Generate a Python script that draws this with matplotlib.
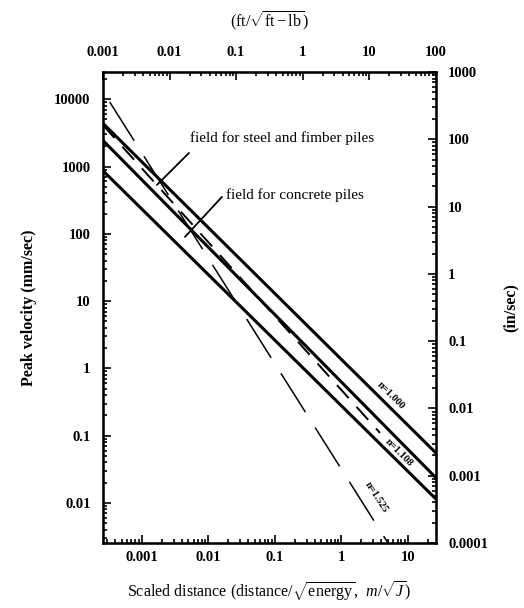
import matplotlib
matplotlib.use("Agg")
import matplotlib.pyplot as plt

# scaled distance (m/sqrt(J)) and peak velocity (mm/s) end points
x_n1000 = [0.00026, 26.0]
v_n1000 = [4400, 0.056]
x_n1108_mid = [0.00026, 26.0]
v_n1108_mid = [2450, 0.024]
x_low = [0.00026, 26.0]
v_low = [870, 0.0116]
x_dash = [0.00026, 3.8]
v_dash = [4140, 0.11]
x_n1525 = [0.00033, 5.0]
v_n1525 = [9100, 0.00255]

bottom_ticks = [0.001, 0.01, 0.1, 1, 10]
bottom_labels = ["0.001", "0.01", "0.1", "1", "10"]
top_ticks = [0.001, 0.01, 0.1, 1, 10, 100]
top_labels = ["0.001", "0.01", "0.1", "1", "10", "100"]
left_ticks = [10000, 1000, 100, 10, 1, 0.1, 0.01]
left_labels = ["10000", "1000", "100", "10", "1", "0.1", "0.01"]
right_ticks = [1000, 100, 10, 1, 0.1, 0.01, 0.001, 0.0001]
right_labels = ["1000", "100", "10", "1", "0.1", "0.01", "0.001", "0.0001"]

M_TO_FT = 3.82   # m/sqrt(J) -> ft/sqrt(ft-lb)
MM_TO_IN = 25.4

plt.rcParams['font.family'] = ['Liberation Serif', 'DejaVu Serif']
plt.rcParams['mathtext.fontset'] = 'custom'
plt.rcParams['mathtext.rm'] = 'Liberation Serif'
plt.rcParams['mathtext.it'] = 'Liberation Serif:italic'

fig = plt.figure(figsize=(5.24, 6.08), dpi=100)
ax = fig.add_axes([0.1966, 0.1069, 0.635, 0.7747])

xlim = (0.001 / M_TO_FT, 100 / M_TO_FT)
ylim = (0.0001 * MM_TO_IN, 1000 * MM_TO_IN)

ax.plot(x_n1000, v_n1000, color='black', lw=2.2)
ax.plot(x_n1108_mid, v_n1108_mid, color='black', lw=2.2)
ax.plot(x_low, v_low, color='black', lw=2.2)
ax.plot(x_dash, v_dash, color='black', lw=1.4, linestyle=(0, (9, 6)))
ax.plot(x_n1525, v_n1525, color='black', lw=1.1, linestyle=(0, (30, 12)))

ax.set_xscale('log')
ax.set_yscale('log')
ax.set_xlim(xlim)
ax.set_ylim(ylim)
ax.set_xticks(bottom_ticks)
ax.set_xticklabels(bottom_labels, fontweight='bold', fontsize=10.5)
ax.set_yticks(left_ticks)
ax.set_yticklabels(left_labels, fontweight='bold', fontsize=10.5)
ax.tick_params(which='both', direction='in', width=1.2)
ax.tick_params(which='major', length=6)
ax.tick_params(which='minor', length=3)
ax.tick_params(axis='x', pad=6)
ax.tick_params(axis='y', pad=9)
for s in ax.spines.values():
    s.set_linewidth(1.8)

ax.set_ylabel("Peak velocity (mm/sec)", fontweight='bold', fontsize=11.5, labelpad=12)
ax.set_xlabel(r"Scaled distance (distance/$\sqrt{\mathrm{energy}}$,  $m/\sqrt{J}$)",
              fontsize=11.5, labelpad=11)

# right axis in in/sec
axr = ax.twinx()
axr.set_yscale('log')
axr.set_ylim(ylim[0] / MM_TO_IN, ylim[1] / MM_TO_IN)
axr.set_yticks(right_ticks)
axr.set_yticklabels(right_labels, fontweight='bold', fontsize=10.5)
axr.tick_params(which='both', direction='in', width=1.2)
axr.tick_params(which='major', length=6, pad=9)
axr.tick_params(which='minor', length=3)
axr.set_ylabel("(in/sec)", fontweight='bold', fontsize=11.5, labelpad=10)

# top axis in ft/sqrt(ft-lb)
axt = ax.twiny()
axt.set_xscale('log')
axt.set_xlim(xlim[0] * M_TO_FT, xlim[1] * M_TO_FT)
axt.set_xticks(top_ticks)
axt.set_xticklabels(top_labels, fontweight='bold', fontsize=10.5)
axt.tick_params(which='both', direction='in', width=1.2)
axt.tick_params(which='major', length=6, pad=9)
axt.tick_params(which='minor', length=3)
axt.set_xlabel(r"(ft/$\sqrt{\mathrm{ft-lb}}$)", fontsize=11.5, labelpad=14)

# annotations with leader lines
ax.text(0.0053, 2650, "field for steel and fimber piles", fontsize=11, va='center')
ax.annotate("", xy=(0.00169, 532), xytext=(0.00512, 1590),
            arrowprops=dict(arrowstyle='-', color='black', lw=1.3, shrinkA=0, shrinkB=0))
ax.text(0.0184, 378, "field for concrete piles", fontsize=11, va='center')
ax.annotate("", xy=(0.00446, 90), xytext=(0.016, 353),
            arrowprops=dict(arrowstyle='-', color='black', lw=1.3, shrinkA=0, shrinkB=0))

ax.text(5.5, 0.39, "n=1.000", fontsize=7.5, fontweight='bold', rotation=-45,
        ha='center', va='center')
ax.text(7.3, 0.056, "n=1.108", fontsize=7.5, fontweight='bold', rotation=-45,
        ha='center', va='center')
ax.text(3.3, 0.0123, "n=1.525", fontsize=7.5, fontweight='bold', rotation=-57,
        ha='center', va='center')

fig.savefig("out.png", dpi=100)
